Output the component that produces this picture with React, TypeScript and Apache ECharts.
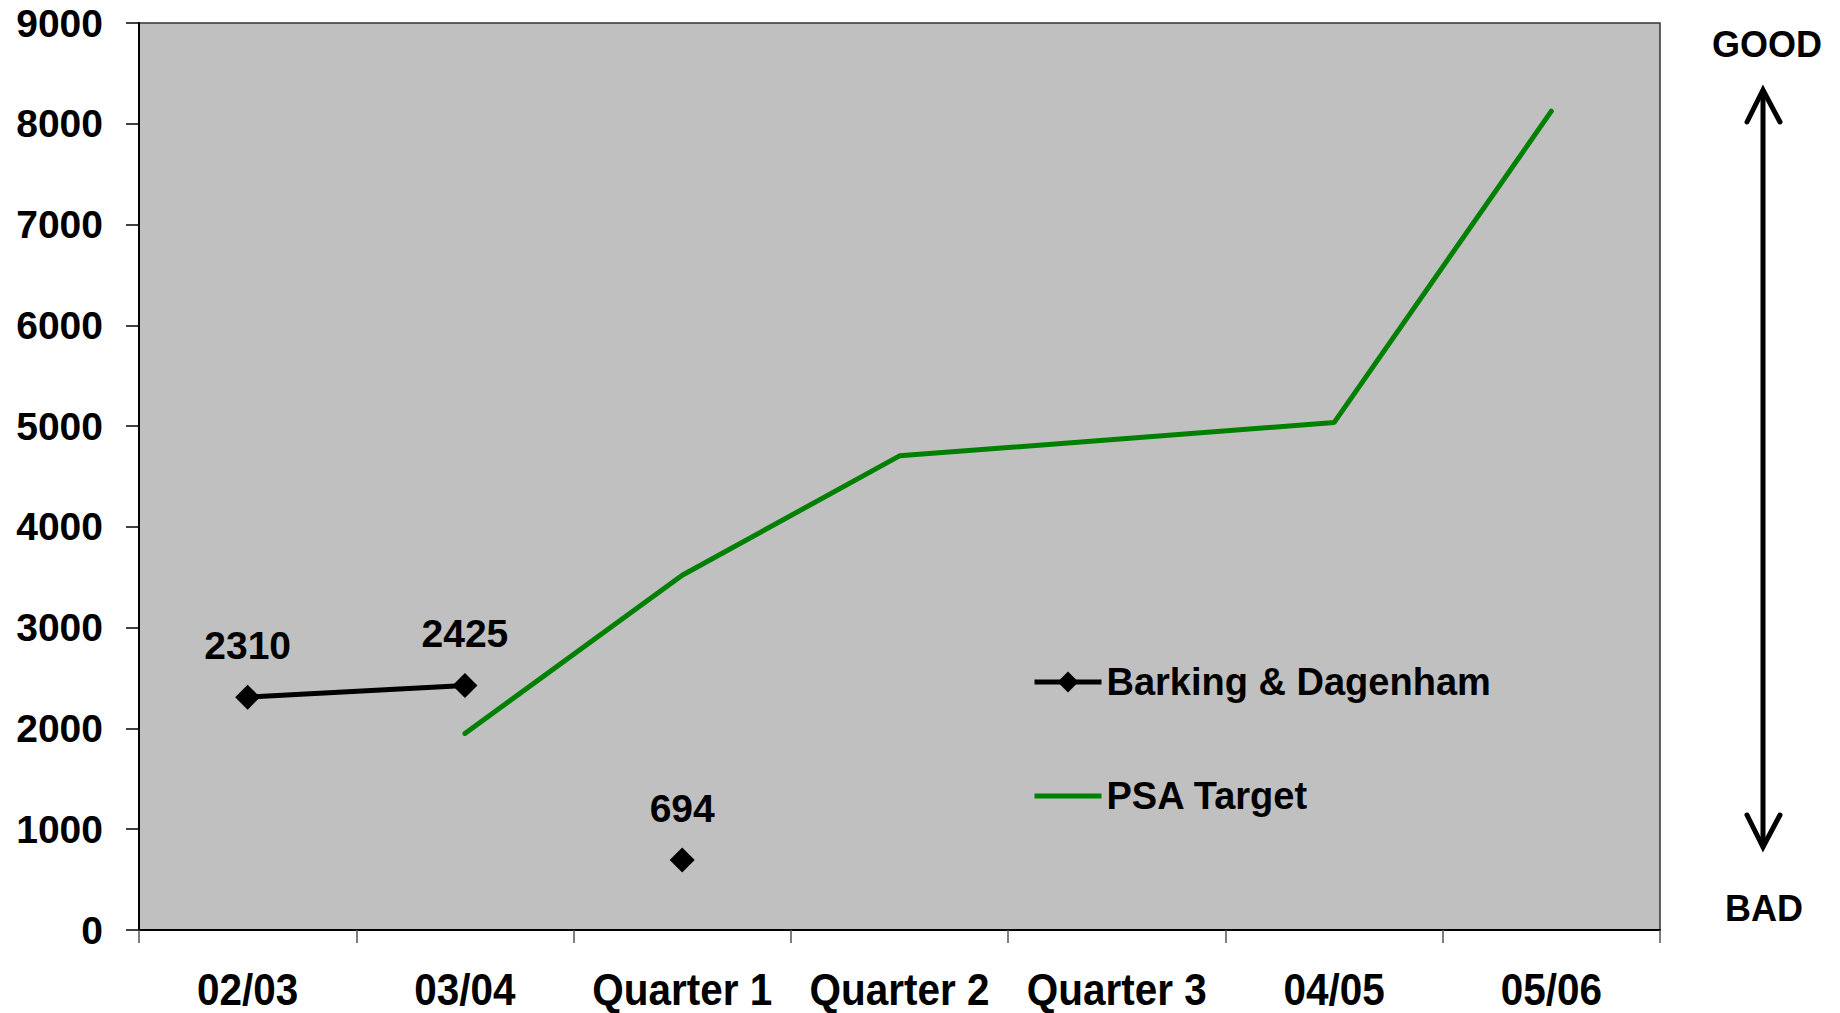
import React, { useEffect, useRef } from "react";
import * as echarts from "echarts";

const categories = ["02/03", "03/04", "Quarter 1", "Quarter 2", "Quarter 3", "04/05", "05/06"];
const barkingLine = [2310, 2425, null, null, null, null, null];
const barkingQ1 = [null, null, 694, null, null, null, null];
const psaTarget = [null, 1950, 3520, 4705, 4870, 5035, 8125];
const yTicks = { min: 0, max: 9000, interval: 1000 };

export default function App() {
  const ref = useRef<HTMLDivElement>(null);
  useEffect(() => {
    const chart = echarts.init(ref.current!, null, { renderer: "svg" });
    const FONT = "'Liberation Sans', Arial, sans-serif";
    const bold = { fontFamily: FONT, fontWeight: "bold" as const, color: "#000" };
    const dataLabel = { show: true, position: "top" as const, distance: 20, fontSize: 39, ...bold, opacity: 1 };
    chart.setOption({
      animation: false,
      backgroundColor: "#fff",
      grid: {
        left: 139, top: 23, width: 1521, height: 907,
        show: true, backgroundColor: "#C0C0C0", borderColor: "#333", borderWidth: 1.5,
      },
      legend: {
        orient: "vertical",
        left: 1032, top: 661, padding: 0,
        itemWidth: 67, itemHeight: 26, itemGap: 72,
        textStyle: { fontSize: 38, lineHeight: 42, ...bold },
        data: [
          { name: "Barking & Dagenham", lineStyle: { width: 5, color: "#000" } },
          { name: "PSA Target", icon: "path://M0,0 L67,0 L67,5 L0,5 Z" },
        ],
      },
      xAxis: {
        type: "category",
        data: categories,
        boundaryGap: true,
        axisLine: { lineStyle: { color: "#000", width: 2 } },
        axisTick: { show: true, length: 13, lineStyle: { color: "#555", width: 1.5 } },
        axisLabel: { show: false },
        splitLine: { show: false },
      },
      yAxis: {
        type: "value",
        min: yTicks.min, max: yTicks.max, interval: yTicks.interval,
        axisLine: { show: true, lineStyle: { color: "#000", width: 2 } },
        axisTick: { show: true, length: 13, lineStyle: { color: "#000", width: 1.5 } },
        axisLabel: { fontSize: 39, margin: 36, ...bold, formatter: (v: number) => String(v) },
        splitLine: { show: false },
      },
      series: [
        {
          name: "Barking & Dagenham",
          type: "line",
          data: barkingLine,
          symbol: "diamond",
          symbolSize: 25,
          itemStyle: { color: "#000", opacity: 1 },
          lineStyle: { color: "#000", width: 5 },
          label: dataLabel,
          connectNulls: false,
        },
        {
          name: "Barking & Dagenham",
          type: "scatter",
          data: barkingQ1,
          symbol: "diamond",
          symbolSize: 25,
          itemStyle: { color: "#000", opacity: 1 },
          label: dataLabel,
        },
        {
          name: "PSA Target",
          type: "line",
          data: psaTarget,
          symbol: "none",
          itemStyle: { color: "#008000" },
          lineStyle: { color: "#008000", width: 5, cap: "round" },
        },
        {
          name: "xLabels",
          type: "custom",
          silent: true,
          clip: false,
          data: categories.map((_, i) => [i, 0]),
          renderItem: (params: any, api: any) => {
            const p = api.coord([api.value(0), 0]);
            return {
              type: "text",
              x: p[0],
              y: p[1] + 60,
              scaleX: 0.92,
              style: {
                text: categories[params.dataIndex],
                fontSize: 44,
                fontWeight: "bold",
                fontFamily: FONT,
                fill: "#000",
                align: "center",
                verticalAlign: "middle",
              },
            };
          },
        },
      ],
      graphic: [
        { type: "line", shape: { x1: 1763, y1: 92, x2: 1763, y2: 844 }, style: { stroke: "#000", lineWidth: 5 } },
        { type: "polyline", shape: { points: [[1747, 122], [1763, 90], [1780, 122]] }, style: { stroke: "#000", lineWidth: 5, fill: null, lineCap: "round", lineJoin: "miter" } },
        { type: "polyline", shape: { points: [[1747, 815], [1763, 847], [1780, 815]] }, style: { stroke: "#000", lineWidth: 5, fill: null, lineCap: "round", lineJoin: "miter" } },
        { type: "text", x: 1767, y: 44, style: { text: "GOOD", fontSize: 36, fontWeight: "bold", fontFamily: FONT, fill: "#000", align: "center", verticalAlign: "middle" } },
        { type: "text", x: 1764, y: 908, style: { text: "BAD", fontSize: 36, fontWeight: "bold", fontFamily: FONT, fill: "#000", align: "center", verticalAlign: "middle" } },
      ],
    });
    return () => chart.dispose();
  }, []);
  return <div ref={ref} style={{ position: "fixed", left: 0, top: 0, width: 1840, height: 1013 }} />;
}
